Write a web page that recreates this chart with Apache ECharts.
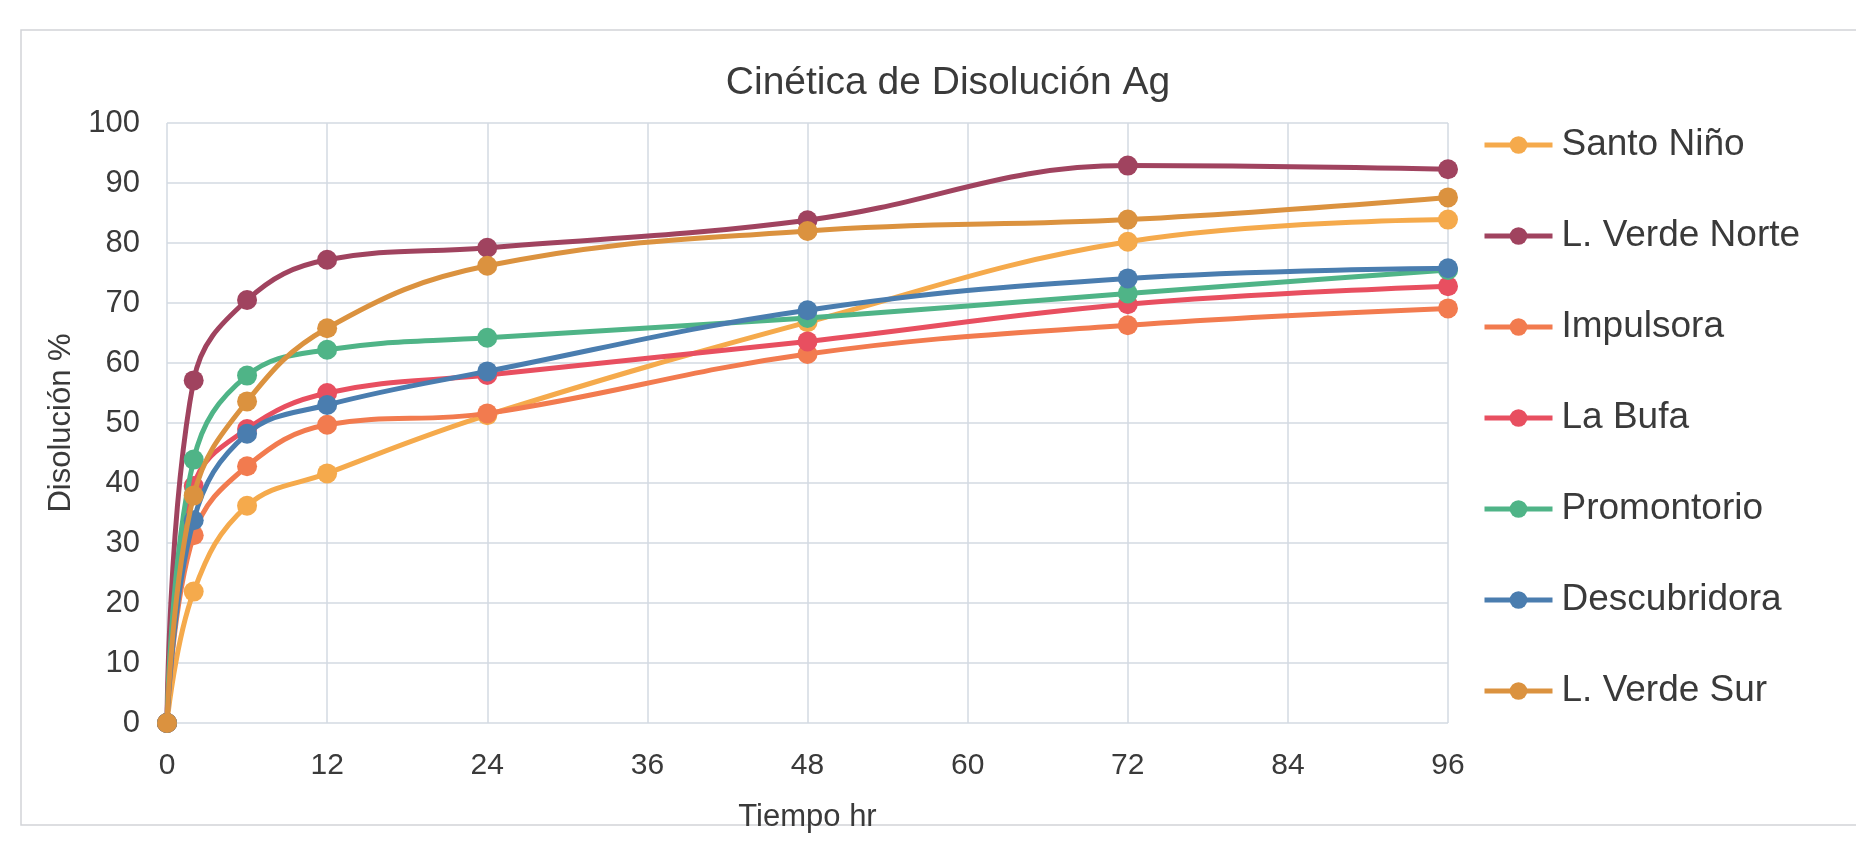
<!DOCTYPE html>
<html>
<head>
<meta charset="utf-8">
<script src="https://cdn.jsdelivr.net/npm/echarts@6/dist/echarts.min.js"></script>
<style>
html,body{margin:0;padding:0;background:#ffffff;}
#chart{width:1856px;height:859px;}
</style>
</head>
<body>
<div id="chart"></div>
<script>
const hours = [0, 2, 6, 12, 24, 48, 72, 96];
const seriesNames = ['Santo Niño', 'L. Verde Norte', 'Impulsora', 'La Bufa', 'Promontorio', 'Descubridora', 'L. Verde Sur'];
const santoNino    = [0, 21.9, 36.2, 41.6, 51.3, 66.8, 80.2, 83.9];
const lVerdeNorte  = [0, 57.1, 70.5, 77.2, 79.2, 83.8, 92.9, 92.3];
const impulsora    = [0, 31.3, 42.8, 49.7, 51.6, 61.5, 66.3, 69.1];
const laBufa       = [0, 39.5, 49.0, 55.0, 58.0, 63.6, 69.8, 72.8];
const promontorio  = [0, 43.9, 57.9, 62.2, 64.2, 67.5, 71.6, 75.5];
const descubridora = [0, 33.8, 48.2, 53.0, 58.6, 68.8, 74.1, 75.8];
const lVerdeSur    = [0, 37.9, 53.6, 65.8, 76.2, 82.0, 83.9, 87.6];
const xTicks = [0, 12, 24, 36, 48, 60, 72, 84, 96];
const yTicks = [0, 10, 20, 30, 40, 50, 60, 70, 80, 90, 100];

const allValues = [santoNino, lVerdeNorte, impulsora, laBufa, promontorio, descubridora, lVerdeSur];
const colors = ['#F5AA4C', '#A0435F', '#F27B4F', '#E84F60', '#4FB487', '#4A7DAF', '#DB923F'];

const chart = echarts.init(document.getElementById('chart'));
const fontFam = 'Liberation Sans, Arial, sans-serif';

const series = seriesNames.map((name, i) => ({
  name: name,
  type: 'line',
  smooth: 0.4,
  data: hours.map((h, j) => [h, allValues[i][j]]),
  symbol: 'circle',
  symbolSize: 20,
  lineStyle: { width: 5, color: colors[i] },
  itemStyle: { color: colors[i] },
  emphasis: { disabled: true },
  z: 2 + i
}));

chart.setOption({
  backgroundColor: '#ffffff',
  animation: false,
  color: colors,
  title: {
    text: 'Cinética de Disolución Ag',
    left: 943,
    textAlign: 'center',
    top: 59,
    textStyle: { fontFamily: fontFam, fontSize: 39, fontWeight: 'normal', color: '#3a3a3a' }
  },
  graphic: [{
    type: 'rect',
    shape: { x: 21, y: 30, width: 1860, height: 795 },
    style: { fill: 'none', stroke: '#d2d4d8', lineWidth: 1.5 },
    silent: true,
    z: -10
  }],
  legend: {
    orient: 'vertical',
    left: 1477,
    top: 121,
    itemWidth: 68,
    itemHeight: 22,
    itemGap: 53,
    data: seriesNames,
    lineStyle: { width: 5 },
    textStyle: { fontFamily: fontFam, fontSize: 37, color: '#3a3a3a', lineHeight: 38, padding: [0, 0, 0, 4] }
  },
  grid: { left: 167, right: 408, top: 123, bottom: 136 },
  xAxis: {
    type: 'value',
    min: xTicks[0],
    max: xTicks[xTicks.length - 1],
    interval: 12,
    name: 'Tiempo hr',
    nameLocation: 'middle',
    nameGap: 79,
    nameTextStyle: { fontFamily: fontFam, fontSize: 31, color: '#3a3a3a' },
    axisLine: { show: false },
    axisTick: { show: false },
    axisLabel: { fontFamily: fontFam, fontSize: 30, color: '#3a3a3a', margin: 28 },
    splitLine: { show: true, lineStyle: { color: '#d3dae2', width: 1.5 } }
  },
  yAxis: {
    type: 'value',
    min: yTicks[0],
    max: yTicks[yTicks.length - 1],
    interval: 10,
    name: 'Disolución %',
    nameLocation: 'middle',
    nameGap: 90,
    nameTextStyle: { fontFamily: fontFam, fontSize: 31, color: '#3a3a3a' },
    axisLine: { show: false },
    axisTick: { show: false },
    axisLabel: { fontFamily: fontFam, fontSize: 31, color: '#3a3a3a', margin: 27 },
    splitLine: { show: true, lineStyle: { color: '#d3dae2', width: 1.5 } }
  },
  series: series
});
</script>
</body>
</html>
